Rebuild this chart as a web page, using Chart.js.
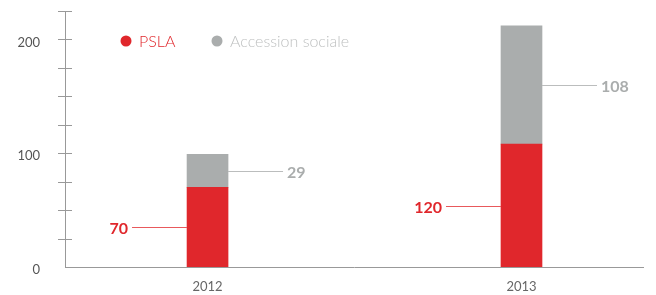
<!DOCTYPE html>
<html>
<head>
<meta charset="utf-8">
<script src="https://cdn.jsdelivr.net/npm/chart.js@4.4.1/dist/chart.umd.min.js"></script>
<style>
  html, body { margin: 0; padding: 0; background: #fff; }
  #wrap { width: 656px; height: 295px; }
</style>
</head>
<body>
<div id="wrap"><canvas id="chart"></canvas></div>
<script>
// values
const years = [2012, 2013];
const psla = [70, 108];
const accession = [29, 104];
// printed labels next to the bars
const pslaLabels = ['70', '120'];
const accessionLabels = ['29', '108'];
const seriesNames = ['PSLA', 'Accession sociale'];
const yLabelTicks = [0, 100, 200];

const RED = '#e0272c';
const GREY = '#aaadad';
const FONT = 'Lato, "Open Sans", sans-serif';

// little crossing tick marks on the y axis
const yTickMarks = {
  id: 'yTickMarks',
  afterDraw(chart) {
    const ctx = chart.ctx;
    const y = chart.scales.y;
    ctx.save();
    ctx.strokeStyle = '#999';
    ctx.lineWidth = 1;
    for (let v = 25; v <= y.max; v += 25) {
      const py = Math.round(y.getPixelForValue(v)) + 0.5;
      ctx.beginPath();
      ctx.moveTo(y.right - 7, py);
      ctx.lineTo(y.right + 7, py);
      ctx.stroke();
    }
    ctx.restore();
  }
};

// leader lines + value labels
const valueLabels = {
  id: 'valueLabels',
  afterDatasetsDraw(chart) {
    const ctx = chart.ctx;
    ctx.save();
    ctx.font = 'bold 16px ' + FONT;
    ctx.textBaseline = 'middle';
    chart.data.datasets.forEach((ds, di) => {
      const meta = chart.getDatasetMeta(di);
      meta.data.forEach((bar, i) => {
        const mid = Math.round((bar.y + bar.base) / 2) + 0.5;
        const half = bar.width / 2;
        ctx.lineWidth = 1;
        if (di === 0) {
          const x1 = bar.x - half;
          const x0 = x1 - 55;
          ctx.strokeStyle = '#e8595c';
          ctx.beginPath(); ctx.moveTo(x0, mid); ctx.lineTo(x1, mid); ctx.stroke();
          ctx.fillStyle = RED;
          ctx.textAlign = 'right';
          ctx.fillText(ds.valueLabels[i], x0 - 4, mid + 1);
        } else {
          const x0 = bar.x + half;
          const x1 = x0 + 55;
          ctx.strokeStyle = '#bbbdbd';
          ctx.beginPath(); ctx.moveTo(x0, mid); ctx.lineTo(x1, mid); ctx.stroke();
          ctx.fillStyle = GREY;
          ctx.textAlign = 'left';
          ctx.fillText(ds.valueLabels[i], x1 + 4, mid + 1);
        }
      });
    });
    ctx.restore();
  }
};

// legend drawn inside the plot, top left
const innerLegend = {
  id: 'innerLegend',
  afterDraw(chart) {
    const ctx = chart.ctx;
    const textColors = [RED, '#bfc1c1'];
    const dotColors = [RED, GREY];
    let x = 126;
    const y = 41;
    ctx.save();
    ctx.font = '300 16px ' + FONT;
    ctx.textBaseline = 'middle';
    ctx.textAlign = 'left';
    seriesNames.forEach((name, i) => {
      ctx.fillStyle = dotColors[i];
      ctx.beginPath(); ctx.arc(x, y, 5.5, 0, Math.PI * 2); ctx.fill();
      ctx.fillStyle = textColors[i];
      ctx.fillText(name, x + 13, y + 1);
      x += 91;
    });
    ctx.restore();
  }
};

new Chart(document.getElementById('chart'), {
  type: 'bar',
  data: {
    datasets: [
      {
        label: seriesNames[0],
        data: years.map((yr, i) => ({ x: yr, y: psla[i] })),
        valueLabels: pslaLabels,
        backgroundColor: RED,
        barThickness: 41
      },
      {
        label: seriesNames[1],
        data: years.map((yr, i) => ({ x: yr, y: accession[i] })),
        valueLabels: accessionLabels,
        backgroundColor: GREY,
        barThickness: 41
      }
    ]
  },
  options: {
    responsive: true,
    maintainAspectRatio: false,
    animation: false,
    layout: { padding: { left: 0, right: 13, top: 11, bottom: 0 } },
    plugins: { legend: { display: false }, tooltip: { enabled: false } },
    scales: {
      x: {
        type: 'linear',
        stacked: true,
        offset: false,
        min: 2011.546,
        max: 2013.387,
        afterBuildTicks: s => { s.ticks = years.map(v => ({ value: v })); },
        afterFit: s => { s.height = 28; s.paddingLeft = 0; s.paddingRight = 0; },
        grid: { display: false, drawTicks: false },
        border: { color: '#999' },
        ticks: { padding: 12, color: '#666', font: { family: FONT, size: 13 }, callback: v => String(v) }
      },
      y: {
        stacked: true,
        min: 0,
        max: 225,
        afterBuildTicks: s => { s.ticks = yLabelTicks.map(v => ({ value: v })); },
        afterFit: s => { s.width = 65; s.paddingTop = 0; s.paddingBottom = 0; },
        grid: { display: false, drawTicks: false },
        border: { color: '#999' },
        ticks: { padding: 25, labelOffset: 3, color: '#555', font: { family: FONT, size: 13 } }
      }
    }
  },
  plugins: [yTickMarks, valueLabels, innerLegend]
});
</script>
</body>
</html>
